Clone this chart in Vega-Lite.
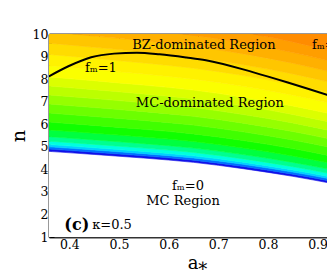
{
  "$schema": "https://vega.github.io/schema/vega-lite/v6.json",
  "width": 278,
  "height": 203,
  "autosize": {"type": "none"},
  "padding": {"left": 49, "top": 34, "right": 0, "bottom": 36},
  "background": "white",
  "config": {"view": {"stroke": null}},
  "datasets": {
    "bands": [
      {"x":0.35,"k":0,"t":4.81},{"x":0.35,"k":1,"t":0.1},{"x":0.35,"k":2,"t":0.1},{"x":0.35,"k":3,"t":0.1},{"x":0.35,"k":4,"t":0.15},{"x":0.35,"k":5,"t":0.2},{"x":0.35,"k":6,"t":0.3},{"x":0.35,"k":7,"t":0.35},{"x":0.35,"k":8,"t":0.4},{"x":0.35,"k":9,"t":0.4},{"x":0.35,"k":10,"t":0.4},{"x":0.35,"k":11,"t":0.4},{"x":0.35,"k":12,"t":0.4},{"x":0.35,"k":13,"t":0.5},{"x":0.35,"k":14,"t":0.5},{"x":0.35,"k":15,"t":0.5},{"x":0.35,"k":16,"t":0.5},{"x":0.35,"k":17,"t":0.5},{"x":0.35,"k":18,"t":0.5},{"x":0.35,"k":19,"t":2.0},
      {"x":0.45,"k":0,"t":4.66},{"x":0.45,"k":1,"t":0.099},{"x":0.45,"k":2,"t":0.099},{"x":0.45,"k":3,"t":0.099},{"x":0.45,"k":4,"t":0.149},{"x":0.45,"k":5,"t":0.198},{"x":0.45,"k":6,"t":0.297},{"x":0.45,"k":7,"t":0.347},{"x":0.45,"k":8,"t":0.396},{"x":0.45,"k":9,"t":0.396},{"x":0.45,"k":10,"t":0.396},{"x":0.45,"k":11,"t":0.396},{"x":0.45,"k":12,"t":0.396},{"x":0.45,"k":13,"t":0.495},{"x":0.45,"k":14,"t":0.495},{"x":0.45,"k":15,"t":0.495},{"x":0.45,"k":16,"t":0.495},{"x":0.45,"k":17,"t":0.495},{"x":0.45,"k":18,"t":0.495},{"x":0.45,"k":19,"t":1.98},
      {"x":0.55,"k":0,"t":4.50},{"x":0.55,"k":1,"t":0.098},{"x":0.55,"k":2,"t":0.098},{"x":0.55,"k":3,"t":0.098},{"x":0.55,"k":4,"t":0.147},{"x":0.55,"k":5,"t":0.196},{"x":0.55,"k":6,"t":0.294},{"x":0.55,"k":7,"t":0.343},{"x":0.55,"k":8,"t":0.392},{"x":0.55,"k":9,"t":0.392},{"x":0.55,"k":10,"t":0.392},{"x":0.55,"k":11,"t":0.392},{"x":0.55,"k":12,"t":0.392},{"x":0.55,"k":13,"t":0.49},{"x":0.55,"k":14,"t":0.49},{"x":0.55,"k":15,"t":0.49},{"x":0.55,"k":16,"t":0.49},{"x":0.55,"k":17,"t":0.49},{"x":0.55,"k":18,"t":0.49},{"x":0.55,"k":19,"t":1.96},
      {"x":0.65,"k":0,"t":4.31},{"x":0.65,"k":1,"t":0.097},{"x":0.65,"k":2,"t":0.097},{"x":0.65,"k":3,"t":0.097},{"x":0.65,"k":4,"t":0.146},{"x":0.65,"k":5,"t":0.194},{"x":0.65,"k":6,"t":0.291},{"x":0.65,"k":7,"t":0.34},{"x":0.65,"k":8,"t":0.388},{"x":0.65,"k":9,"t":0.388},{"x":0.65,"k":10,"t":0.388},{"x":0.65,"k":11,"t":0.388},{"x":0.65,"k":12,"t":0.388},{"x":0.65,"k":13,"t":0.485},{"x":0.65,"k":14,"t":0.485},{"x":0.65,"k":15,"t":0.485},{"x":0.65,"k":16,"t":0.485},{"x":0.65,"k":17,"t":0.485},{"x":0.65,"k":18,"t":0.485},{"x":0.65,"k":19,"t":1.94},
      {"x":0.75,"k":0,"t":4.03},{"x":0.75,"k":1,"t":0.096},{"x":0.75,"k":2,"t":0.096},{"x":0.75,"k":3,"t":0.096},{"x":0.75,"k":4,"t":0.144},{"x":0.75,"k":5,"t":0.192},{"x":0.75,"k":6,"t":0.288},{"x":0.75,"k":7,"t":0.336},{"x":0.75,"k":8,"t":0.384},{"x":0.75,"k":9,"t":0.384},{"x":0.75,"k":10,"t":0.384},{"x":0.75,"k":11,"t":0.384},{"x":0.75,"k":12,"t":0.384},{"x":0.75,"k":13,"t":0.48},{"x":0.75,"k":14,"t":0.48},{"x":0.75,"k":15,"t":0.48},{"x":0.75,"k":16,"t":0.48},{"x":0.75,"k":17,"t":0.48},{"x":0.75,"k":18,"t":0.48},{"x":0.75,"k":19,"t":1.92},
      {"x":0.85,"k":0,"t":3.69},{"x":0.85,"k":1,"t":0.095},{"x":0.85,"k":2,"t":0.095},{"x":0.85,"k":3,"t":0.095},{"x":0.85,"k":4,"t":0.142},{"x":0.85,"k":5,"t":0.189},{"x":0.85,"k":6,"t":0.284},{"x":0.85,"k":7,"t":0.331},{"x":0.85,"k":8,"t":0.378},{"x":0.85,"k":9,"t":0.378},{"x":0.85,"k":10,"t":0.378},{"x":0.85,"k":11,"t":0.378},{"x":0.85,"k":12,"t":0.378},{"x":0.85,"k":13,"t":0.473},{"x":0.85,"k":14,"t":0.473},{"x":0.85,"k":15,"t":0.473},{"x":0.85,"k":16,"t":0.473},{"x":0.85,"k":17,"t":0.473},{"x":0.85,"k":18,"t":0.473},{"x":0.85,"k":19,"t":1.89},
      {"x":0.93,"k":0,"t":3.37},{"x":0.93,"k":1,"t":0.093},{"x":0.93,"k":2,"t":0.093},{"x":0.93,"k":3,"t":0.093},{"x":0.93,"k":4,"t":0.14},{"x":0.93,"k":5,"t":0.186},{"x":0.93,"k":6,"t":0.279},{"x":0.93,"k":7,"t":0.326},{"x":0.93,"k":8,"t":0.372},{"x":0.93,"k":9,"t":0.372},{"x":0.93,"k":10,"t":0.372},{"x":0.93,"k":11,"t":0.372},{"x":0.93,"k":12,"t":0.372},{"x":0.93,"k":13,"t":0.465},{"x":0.93,"k":14,"t":0.465},{"x":0.93,"k":15,"t":0.465},{"x":0.93,"k":16,"t":0.465},{"x":0.93,"k":17,"t":0.465},{"x":0.93,"k":18,"t":0.465},{"x":0.93,"k":19,"t":1.86}
    ],
    "curve": [
      {"x":0.3587,"y":8.12},{"x":0.398,"y":8.57},{"x":0.444,"y":8.97},{"x":0.49,"y":9.13},{"x":0.536,"y":9.17},{"x":0.582,"y":9.1},{"x":0.636,"y":8.96},{"x":0.675,"y":8.84},{"x":0.771,"y":8.3},{"x":0.84,"y":7.85},{"x":0.919,"y":7.3},{"x":0.93,"y":7.22}
    ],
    "labels": [
      {"x":0.671,"y":9.53,"text":"BZ-dominated Region"},
      {"x":0.921,"y":9.53,"text":"fₘ=1"},
      {"x":0.4635,"y":8.49,"text":"fₘ=1"},
      {"x":0.683,"y":6.94,"text":"MC-dominated Region"},
      {"x":0.639,"y":3.27,"text":"fₘ=0"},
      {"x":0.629,"y":2.61,"text":"MC Region"},
      {"x":0.486,"y":1.53,"text":"κ=0.5"}
    ],
    "panel": [{"x":0.415,"y":1.51,"text":"(c)"}]
  },
  "resolve": {"axis": {"x": "independent", "y": "independent"}},
  "layer": [
    {
      "data": {"name": "bands"},
      "mark": {"type": "area", "clip": true, "interpolate": "monotone", "strokeWidth": 0.6},
      "encoding": {
        "x": {"field": "x", "type": "quantitative",
          "scale": {"domain": [0.359, 0.919], "nice": false, "zero": false},
          "axis": {"orient": "bottom", "grid": false,
            "values": [0.36,0.38,0.4,0.42,0.44,0.46,0.48,0.5,0.52,0.54,0.56,0.58,0.6,0.62,0.64,0.66,0.68,0.7,0.72,0.74,0.76,0.78,0.8,0.82,0.84,0.86,0.88,0.9,0.92],
            "format": ".1f",
            "labelExpr": "abs(datum.value*10-round(datum.value*10))<0.001 ? datum.label : ''",
            "tickSize": {"condition": {"test": "abs(datum.value*10-round(datum.value*10))<0.001", "value": -5}, "value": -2.5},
            "tickColor": "#000", "tickWidth": 1,
            "domainColor": "#333", "domainWidth": 2,
            "labelOverlap": false, "labelFlush": false,
            "labelFont": "DejaVu Serif", "labelFontSize": 12.5, "labelColor": "#000", "labelPadding": 6,
            "title": "a⁎", "titleFont": "DejaVu Serif", "titleFontSize": 18, "titleFontWeight": "normal", "titleColor": "#000",
            "titleX": 148, "titlePadding": 1}},
        "y": {"field": "t", "type": "quantitative", "stack": "zero",
          "scale": {"domain": [1, 10], "nice": false, "zero": false},
          "axis": {"orient": "left", "grid": false,
            "values": [1,1.2,1.4,1.6,1.8,2,2.2,2.4,2.6,2.8,3,3.2,3.4,3.6,3.8,4,4.2,4.4,4.6,4.8,5,5.2,5.4,5.6,5.8,6,6.2,6.4,6.6,6.8,7,7.2,7.4,7.6,7.8,8,8.2,8.4,8.6,8.8,9,9.2,9.4,9.6,9.8,10],
            "format": ".0f",
            "labelExpr": "abs(datum.value-round(datum.value))<0.001 ? datum.label : ''",
            "tickSize": {"condition": {"test": "abs(datum.value-round(datum.value))<0.001", "value": -5}, "value": -2.5},
            "tickColor": "#000", "tickWidth": 1,
            "domainColor": "#333", "domainWidth": 2,
            "labelOverlap": false, "labelFlush": false,
            "labelFont": "DejaVu Serif", "labelFontSize": 12.5, "labelColor": "#000", "labelPadding": 6,
            "title": "n", "titleFont": "DejaVu Serif", "titleFontSize": 19, "titleFontWeight": "normal", "titleColor": "#000",
            "titlePadding": 4}},
        "order": {"field": "k", "type": "quantitative"},
        "color": {"field": "k", "type": "ordinal", "legend": null,
          "scale": {"domain": [0,1,2,3,4,5,6,7,8,9,10,11,12,13,14,15,16,17,18,19],
            "range": ["#ffffff","#1010e8","#0070ff","#00d0ff","#00ffe0","#00ff90","#00ff40","#10ff00","#40ff00","#6cff00","#96ff00","#bcff00","#dcff00","#fbff00","#fff200","#ffdc00","#ffc600","#ffb000","#ff9e00","#ff8c00"]}},
        "stroke": {"field": "k", "type": "ordinal", "legend": null,
          "scale": {"domain": [0,1,2,3,4,5,6,7,8,9,10,11,12,13,14,15,16,17,18,19],
            "range": ["#ffffff","#1010e8","#0070ff","#00d0ff","#00ffe0","#00ff90","#00ff40","#10ff00","#40ff00","#6cff00","#96ff00","#bcff00","#dcff00","#fbff00","#fff200","#ffdc00","#ffc600","#ffb000","#ff9e00","#ff8c00"]}}
      }
    },
    {
      "data": {"name": "curve"},
      "mark": {"type": "line", "clip": true, "interpolate": "monotone", "color": "#000", "strokeWidth": 2},
      "encoding": {
        "x": {"field": "x", "type": "quantitative",
          "axis": {"orient": "top", "grid": false, "labels": false, "title": null,
            "values": [0.36,0.38,0.4,0.42,0.44,0.46,0.48,0.5,0.52,0.54,0.56,0.58,0.6,0.62,0.64,0.66,0.68,0.7,0.72,0.74,0.76,0.78,0.8,0.82,0.84,0.86,0.88,0.9,0.92],
            "tickSize": {"condition": {"test": "abs(datum.value*10-round(datum.value*10))<0.001", "value": -5}, "value": -2.5},
            "tickColor": "#000", "tickWidth": 1,
            "domainColor": "#333", "domainWidth": 2}},
        "y": {"field": "y", "type": "quantitative", "axis": null}
      }
    },
    {
      "data": {"name": "labels"},
      "mark": {"type": "text", "font": "DejaVu Serif", "fontSize": 13, "color": "#000", "align": "center", "baseline": "middle"},
      "encoding": {
        "x": {"field": "x", "type": "quantitative", "axis": null},
        "y": {"field": "y", "type": "quantitative", "axis": null},
        "text": {"field": "text"}
      }
    },
    {
      "data": {"name": "panel"},
      "mark": {"type": "text", "font": "DejaVu Serif", "fontSize": 16, "fontWeight": "bold", "color": "#000", "align": "center", "baseline": "middle"},
      "encoding": {
        "x": {"field": "x", "type": "quantitative", "axis": null},
        "y": {"field": "y", "type": "quantitative", "axis": null},
        "text": {"field": "text"}
      }
    }
  ]
}
